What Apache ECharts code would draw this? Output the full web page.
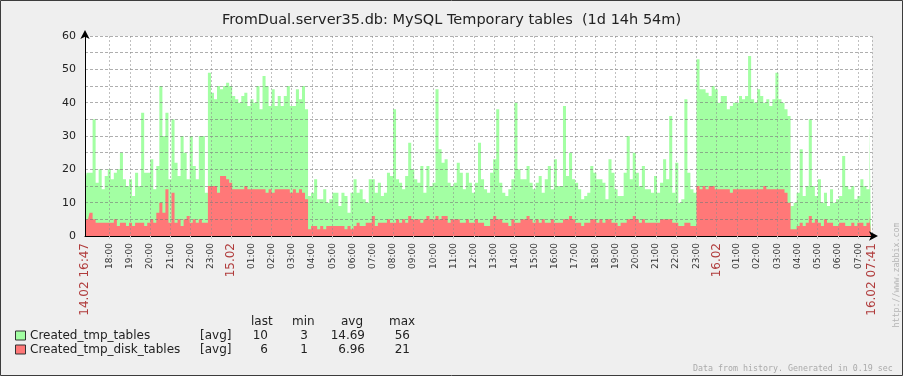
<!DOCTYPE html>
<html>
<head>
<meta charset="utf-8">
<script src="https://cdn.jsdelivr.net/npm/echarts@6/dist/echarts.min.js"></script>
<style>
  html, body { margin: 0; padding: 0; background: #efefef; }
  #chart { width: 903px; height: 376px; }
</style>
</head>
<body>
<div id="chart"></div>
<script>
// minutes since 14.02 00:00, one sample every 9 minutes
const startMin = 1007;   // 14.02 16:47
const endMin = 3341;     // 16.02 07:41
const stepMin = 9;

const tmpTables = [
  16,19,19,35,16,20,14,18,20,17,
  19,20,25,17,15,17,12,19,15,37,
  19,19,23,14,21,45,30,37,17,35,
  22,18,30,25,17,30,21,17,30,30,
  13,49,43,41,45,44,45,46,45,42,
  41,40,42,43,39,41,40,45,38,48,
  45,39,44,39,42,39,42,45,39,39,
  44,41,45,38,12,13,17,11,11,14,
  10,11,13,13,9,13,12,7,13,17,
  13,14,11,10,17,17,13,16,12,13,
  19,18,38,17,16,14,18,28,20,17,
  16,21,13,21,15,16,44,26,22,23,
  16,15,16,22,19,14,19,16,13,16,
  28,17,14,13,19,23,38,16,13,12,
  14,17,40,20,17,17,21,16,14,16,
  18,13,17,21,14,23,15,15,39,18,
  25,17,16,14,11,12,13,21,19,17,
  17,16,11,23,19,14,12,12,19,30,
  17,25,19,15,21,14,14,13,18,13,
  16,23,17,36,13,22,10,11,41,19,
  14,13,53,44,44,43,42,45,44,40,
  42,42,38,39,40,40,42,41,42,54,
  41,40,44,42,40,41,39,41,49,41,
  40,38,36,9,10,13,26,12,15,35,
  15,12,17,10,13,9,14,10,11,12,
  24,15,14,15,11,12,17,15,14,33
];

const tmpDiskTables = [
  5,5,7,5,4,4,4,4,4,4,
  5,3,4,4,3,4,3,4,4,4,
  3,4,5,4,7,10,7,14,4,13,
  4,5,3,5,6,4,5,4,5,4,
  4,15,15,15,13,18,18,17,16,14,
  14,14,14,15,14,14,14,14,14,14,
  13,14,13,14,14,14,14,14,13,14,
  13,14,13,11,2,3,3,2,3,2,
  3,3,3,3,3,3,2,3,2,3,
  4,3,3,4,4,6,3,4,4,4,
  5,4,4,5,4,5,4,6,5,5,
  5,4,5,6,5,5,6,5,6,6,
  4,5,5,5,4,4,5,4,4,5,
  4,4,3,3,5,6,5,5,4,4,
  3,5,4,4,5,5,6,5,4,5,
  4,5,4,4,5,4,4,4,5,5,
  6,5,4,4,3,4,4,5,5,4,
  5,4,5,5,4,4,3,4,4,5,
  5,6,5,4,5,4,4,4,4,4,
  5,5,5,5,4,4,3,3,4,4,
  3,3,15,14,15,14,15,15,14,14,
  14,14,14,13,14,14,14,14,14,14,
  14,14,14,14,15,14,14,14,14,14,
  14,13,10,2,2,3,4,3,4,6,
  4,5,4,3,5,4,4,3,3,4,
  4,3,3,4,3,4,4,3,4,6
];

const legendNames = ['Created_tmp_tables', 'Created_tmp_disk_tables'];
const legendLast = ['10', '6'];
const legendMin = ['3', '1'];
const legendAvg = ['14.69', '6.96'];
const legendMax = ['56', '21'];

const greenColor = '#a3ffa3';
const redColor = '#ff7878';

// hourly grid from 18:00 to 07:00 (16.02)
const hourTicks = [];
for (let m = 1080; m <= 3300; m += 60) hourTicks.push(m);
const labelValues = [startMin].concat(hourTicks, [endMin]);

function pad(n) { return (n < 10 ? '0' : '') + n; }
function xLabel(v) {
  if (v === startMin) return '{r|14.02 16:47}';
  if (v === endMin) return '{r|16.02 07:41}';
  if (v % 1440 === 0) return '{r|' + pad(v / 1440 + 14) + '.02}';
  return pad(Math.floor(v / 60) % 24) + ':00';
}

const toPoints = arr => arr.map((v, i) => [startMin + i * stepMin, v]);

var dom = document.getElementById('chart');
var myChart = echarts.init(dom, null, { renderer: 'canvas' });

const font = 'DejaVu Sans';
const rowY = [335.5, 349.5];

const graphics = [
  { type: 'rect', shape: { x: 0.5, y: 0.5, width: 902, height: 375 },
    style: { fill: 'none', stroke: '#3c3c3c', lineWidth: 1 }, silent: true },
  { type: 'text', x: 251, y: 321.5, style: { text: 'last', font: '12px ' + font, fill: '#222', verticalAlign: 'middle' } },
  { type: 'text', x: 292, y: 321.5, style: { text: 'min', font: '12px ' + font, fill: '#222', verticalAlign: 'middle' } },
  { type: 'text', x: 341, y: 321.5, style: { text: 'avg', font: '12px ' + font, fill: '#222', verticalAlign: 'middle' } },
  { type: 'text', x: 389, y: 321.5, style: { text: 'max', font: '12px ' + font, fill: '#222', verticalAlign: 'middle' } },
  { type: 'text', x: 693, y: 368.5, style: { text: 'Data from history. Generated in 0.19 sec', font: '8.3px "DejaVu Sans Mono"', fill: '#aaa', verticalAlign: 'middle' } },
  { type: 'text', x: 897, y: 275, rotation: Math.PI / 2,
    style: { text: 'http://www.zabbix.com', font: '8.3px "DejaVu Sans Mono"', fill: '#b4b4b4', align: 'center', verticalAlign: 'middle' } }
];
[greenColor, redColor].forEach((c, k) => {
  const y = rowY[k];
  graphics.push(
    { type: 'rect', shape: { x: 15.5, y: y - 4.5, width: 10, height: 9 }, style: { fill: c, stroke: '#333', lineWidth: 1 } },
    { type: 'text', x: 30, y: y, style: { text: legendNames[k], font: '12px ' + font, fill: '#222', verticalAlign: 'middle' } },
    { type: 'text', x: 200, y: y, style: { text: '[avg]', font: '12px ' + font, fill: '#222', verticalAlign: 'middle' } },
    { type: 'text', x: 268, y: y, style: { text: legendLast[k], font: '12px ' + font, fill: '#222', align: 'right', verticalAlign: 'middle' } },
    { type: 'text', x: 308, y: y, style: { text: legendMin[k], font: '12px ' + font, fill: '#222', align: 'right', verticalAlign: 'middle' } },
    { type: 'text', x: 365, y: y, style: { text: legendAvg[k], font: '12px ' + font, fill: '#222', align: 'right', verticalAlign: 'middle' } },
    { type: 'text', x: 410, y: y, style: { text: legendMax[k], font: '12px ' + font, fill: '#222', align: 'right', verticalAlign: 'middle' } }
  );
});

var option = {
  animation: false,
  backgroundColor: '#efefef',
  textStyle: { fontFamily: font },
  title: {
    text: 'FromDual.server35.db: MySQL Temporary tables  (1d 14h 54m)',
    left: 'center',
    top: 8,
    textStyle: { fontSize: 14.5, fontWeight: 'normal', color: '#222', fontFamily: font }
  },
  grid: {
    left: 85, top: 36, width: 787, height: 200,
    show: true, backgroundColor: '#ffffff', borderWidth: 0
  },
  xAxis: {
    type: 'value',
    min: startMin,
    max: endMin,
    z: 3,
    axisLine: {
      show: true, onZero: false,
      lineStyle: { color: '#000', width: 1 },
      symbol: ['none', 'arrow'], symbolSize: [7, 9], symbolOffset: [0, 6]
    },
    axisTick: {
      show: true, length: 3,
      customValues: hourTicks.concat([endMin]),
      lineStyle: { color: '#cccccc' }
    },
    splitLine: {
      show: true,
      lineStyle: { color: 'rgba(140,140,140,0.55)', type: [2, 2], width: 1 }
    },
    axisLabel: {
      customValues: labelValues,
      rotate: 90,
      margin: 7,
      fontSize: 9,
      color: '#333',
      fontFamily: font,
      formatter: xLabel,
      rich: { r: { fontSize: 12, color: '#b03c3c', fontFamily: font } }
    }
  },
  yAxis: {
    type: 'value',
    min: 0,
    max: 60,
    interval: 5,
    z: 3,
    axisLine: {
      show: true,
      lineStyle: { color: '#000', width: 1 },
      symbol: ['none', 'arrow'], symbolSize: [7, 9], symbolOffset: [0, 6]
    },
    axisTick: { show: false },
    splitLine: {
      show: true,
      lineStyle: { color: 'rgba(120,120,120,0.6)', type: [3, 2], width: 1 }
    },
    axisLabel: {
      margin: 9,
      fontSize: 11,
      color: '#222',
      fontFamily: font,
      formatter: v => (v % 10 === 0 ? String(v) : '')
    }
  },
  series: [
    {
      name: legendNames[0],
      type: 'line',
      step: 'middle',
      data: toPoints(tmpTables),
      showSymbol: false,
      lineStyle: { width: 0 },
      areaStyle: { color: greenColor, opacity: 1 },
      z: 2
    },
    {
      name: legendNames[1],
      type: 'line',
      step: 'middle',
      data: toPoints(tmpDiskTables),
      showSymbol: false,
      lineStyle: { width: 0 },
      areaStyle: { color: redColor, opacity: 1 },
      z: 2
    }
  ],
  graphic: graphics
};

myChart.setOption(option);
window.addEventListener('resize', myChart.resize);
</script>
</body>
</html>
